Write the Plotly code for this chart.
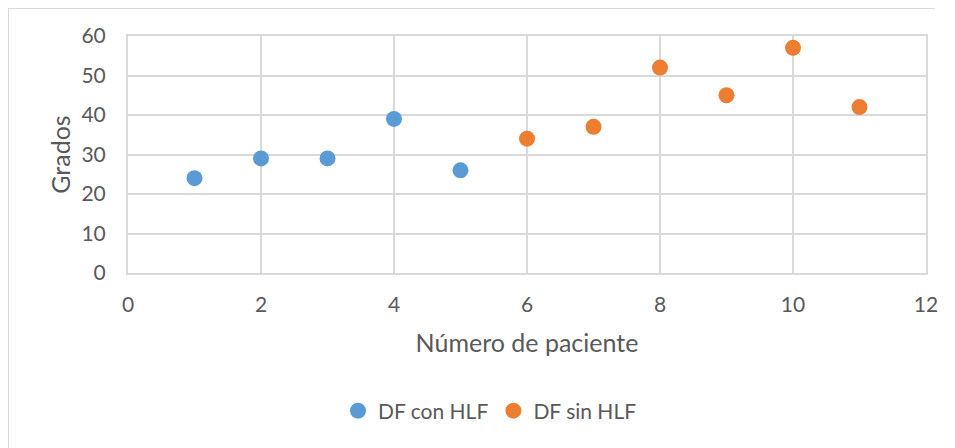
import plotly.graph_objects as go

x_con = [1, 2, 3, 4, 5]
y_con = [24, 29, 29, 39, 26]
x_sin = [6, 7, 8, 9, 10, 11]
y_sin = [34, 37, 52, 45, 57, 42]
name_con = "DF con HLF"
name_sin = "DF sin HLF"
x_ticks = [0, 2, 4, 6, 8, 10, 12]
y_ticks = [0, 10, 20, 30, 40, 50, 60]

FONT = "Lato"
TXT = "#595959"
GRID = "#D9D9D9"

fig = go.Figure()
fig.add_trace(go.Scatter(x=x_con, y=y_con, mode="markers", name=name_con,
                         marker=dict(color="#5B9BD5", size=16)))
fig.add_trace(go.Scatter(x=x_sin, y=y_sin, mode="markers", name=name_sin,
                         marker=dict(color="#ED7D31", size=16)))

# page body has an 8px margin; figure coordinates below are screen - 8
OFF = 8
W, H = 955 - OFF, 448 - OFF
L, R, T, B = 128 - OFF, 926 - OFF, 36 - OFF, 273 - OFF
pw, ph = R - L, B - T

def px(x):
    return (x - OFF - L) / pw

def py(y):
    return (B - (y - OFF)) / ph

fig.update_layout(
    width=W, height=H,
    margin=dict(l=L, r=W - R, t=T, b=H - B),
    paper_bgcolor="white", plot_bgcolor="white",
    font=dict(family=FONT, color=TXT, size=21),
    showlegend=True,
    legend=dict(orientation="h", x=px(490), y=py(411), xanchor="center", yanchor="middle",
                font=dict(size=21, color=TXT), itemwidth=30, tracegroupgap=0),
    xaxis=dict(range=[0, 12], tickvals=x_ticks, showgrid=True, gridcolor=GRID, gridwidth=2,
               zeroline=False, showline=True, linecolor=GRID, linewidth=2, mirror=True,
               ticks="", ticklabelstandoff=12, tickfont=dict(size=21, color=TXT),
               title=dict(text="Número de paciente", font=dict(size=25, color=TXT), standoff=19)),
    yaxis=dict(range=[0, 60], tickvals=y_ticks, showgrid=True, gridcolor=GRID, gridwidth=2,
               zeroline=False, showline=True, linecolor=GRID, linewidth=2, mirror=True,
               ticks="", ticklabelstandoff=16, tickfont=dict(size=21, color=TXT),
               title=dict(text="Grados", font=dict(size=25, color=TXT), standoff=4)),
    shapes=[
        dict(type="line", xref="paper", yref="paper", x0=px(7), x1=px(935), y0=py(8), y1=py(8),
             line=dict(color=GRID, width=2)),
        dict(type="line", xref="paper", yref="paper", x0=px(8), x1=px(8), y0=py(8), y1=py(448),
             line=dict(color=GRID, width=2)),
    ],
)

fig.write_html("out.html")
